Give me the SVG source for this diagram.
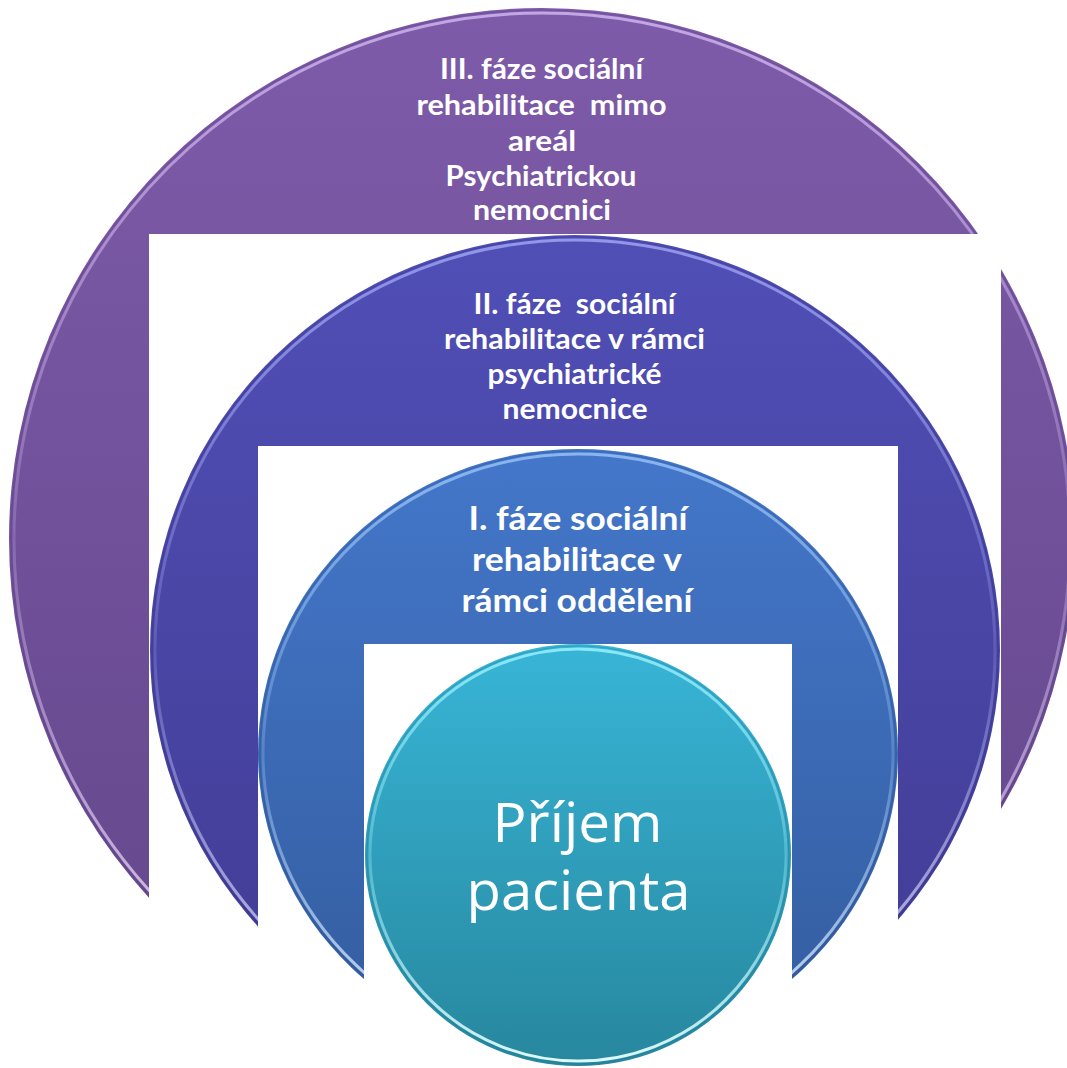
<svg xmlns="http://www.w3.org/2000/svg" width="1067" height="1068" viewBox="0 0 1067 1068">
  <style>
    .lbl { font-family: Lato, "Open Sans", "Liberation Sans", sans-serif; font-weight: 700; fill: #ffffff; text-anchor: middle; white-space: pre; }
    .s28 { font-size: 28px; }
    .s32 { font-size: 32px; }
    .big { font-family: "Open Sans", "Noto Sans", "Liberation Sans", sans-serif; font-weight: 400; font-size: 55px; fill: #ffffff; text-anchor: middle; }
    .rim { fill: none; stroke-width: 3; }
    .edge { fill: none; stroke-width: 1.2; stroke-opacity: 0.35; }
  </style>
  <defs>
    <linearGradient id="gPurple" x1="0" y1="0" x2="0" y2="1">
      <stop offset="0" stop-color="#7E5BA9"/>
      <stop offset="1" stop-color="#62468A"/>
    </linearGradient>
    <linearGradient id="gIndigo" x1="0" y1="0" x2="0" y2="1">
      <stop offset="0" stop-color="#504FB6"/>
      <stop offset="1" stop-color="#413B92"/>
    </linearGradient>
    <linearGradient id="gBlue" x1="0" y1="0" x2="0" y2="1">
      <stop offset="0" stop-color="#4477CA"/>
      <stop offset="1" stop-color="#335C9E"/>
    </linearGradient>
    <linearGradient id="gTeal" x1="0" y1="0" x2="0" y2="1">
      <stop offset="0" stop-color="#38B5D7"/>
      <stop offset="1" stop-color="#27879E"/>
    </linearGradient>
    <linearGradient id="rimPurple" x1="0" y1="0" x2="0" y2="1">
      <stop offset="0" stop-color="#E0C8FF" stop-opacity="0.7"/>
      <stop offset="0.5" stop-color="#E0C8FF" stop-opacity="0.2"/>
      <stop offset="1" stop-color="#FFF0FF" stop-opacity="0.95"/>
    </linearGradient>
    <linearGradient id="rimIndigo" x1="0" y1="0" x2="0" y2="1">
      <stop offset="0" stop-color="#B0B4FF" stop-opacity="0.7"/>
      <stop offset="0.5" stop-color="#B0B4FF" stop-opacity="0.2"/>
      <stop offset="1" stop-color="#F0F0FF" stop-opacity="0.95"/>
    </linearGradient>
    <linearGradient id="rimBlue" x1="0" y1="0" x2="0" y2="1">
      <stop offset="0" stop-color="#A8D0FF" stop-opacity="0.7"/>
      <stop offset="0.5" stop-color="#A8D0FF" stop-opacity="0.25"/>
      <stop offset="1" stop-color="#F0FAFF" stop-opacity="0.95"/>
    </linearGradient>
    <linearGradient id="rimTeal" x1="0" y1="0" x2="0" y2="1">
      <stop offset="0" stop-color="#A0F4FF" stop-opacity="0.8"/>
      <stop offset="0.5" stop-color="#A0F4FF" stop-opacity="0.3"/>
      <stop offset="1" stop-color="#E8FFFF" stop-opacity="0.95"/>
    </linearGradient>
    <clipPath id="cut3">
      <path clip-rule="evenodd" d="M0 0H1067V1068H0Z M149 234V1068H1001V234Z"/>
    </clipPath>
    <clipPath id="cut2">
      <path clip-rule="evenodd" d="M0 0H1067V1068H0Z M258 446V1068H898V446Z"/>
    </clipPath>
    <clipPath id="cut1">
      <path clip-rule="evenodd" d="M0 0H1067V1068H0Z M364 644V1068H792V644Z"/>
    </clipPath>
  </defs>

  <g id="connectors"/>

  <g id="phase3">
    <g clip-path="url(#cut3)">
      <ellipse cx="542" cy="539" rx="533" ry="531" fill="url(#gPurple)"/>
      <ellipse cx="542" cy="539" rx="531" ry="529" class="edge" stroke="#5A3E80"/>
      <ellipse cx="542" cy="539" rx="528" ry="526" class="rim" stroke="url(#rimPurple)"/>
    </g>
    <text class="lbl s28" x="541.5" y="79" textLength="203" lengthAdjust="spacingAndGlyphs">III. fáze sociální</text>
    <text class="lbl s28" x="541.5" y="115" textLength="250" lengthAdjust="spacingAndGlyphs">rehabilitace  mimo</text>
    <text class="lbl s28" x="542" y="150.5" textLength="68" lengthAdjust="spacingAndGlyphs">areál</text>
    <text class="lbl s28" x="541" y="186" textLength="191" lengthAdjust="spacingAndGlyphs">Psychiatrickou</text>
    <text class="lbl s28" x="542" y="220" textLength="138" lengthAdjust="spacingAndGlyphs">nemocnici</text>
  </g>

  <g id="phase2">
    <g clip-path="url(#cut2)">
      <ellipse cx="575" cy="650" rx="425" ry="415" fill="url(#gIndigo)"/>
      <ellipse cx="575" cy="650" rx="423" ry="413" class="edge" stroke="#35307A"/>
      <ellipse cx="575" cy="650" rx="420" ry="410" class="rim" stroke="url(#rimIndigo)"/>
    </g>
    <text class="lbl s28" x="574.5" y="314" textLength="202" lengthAdjust="spacingAndGlyphs">II. fáze  sociální</text>
    <text class="lbl s28" x="574.5" y="349" textLength="261" lengthAdjust="spacingAndGlyphs">rehabilitace v rámci</text>
    <text class="lbl s28" x="574.5" y="383.5" textLength="174" lengthAdjust="spacingAndGlyphs">psychiatrické</text>
    <text class="lbl s28" x="575" y="418.5" textLength="145" lengthAdjust="spacingAndGlyphs">nemocnice</text>
  </g>

  <g id="phase1">
    <g clip-path="url(#cut1)">
      <ellipse cx="578" cy="753" rx="320" ry="304" fill="url(#gBlue)"/>
      <ellipse cx="578" cy="753" rx="318" ry="302" class="edge" stroke="#2A4C88"/>
      <ellipse cx="578" cy="753" rx="315" ry="299" class="rim" stroke="url(#rimBlue)"/>
    </g>
    <text class="lbl s32" x="578" y="530" textLength="219" lengthAdjust="spacingAndGlyphs">I. fáze sociální</text>
    <text class="lbl s32" x="577" y="571" textLength="210" lengthAdjust="spacingAndGlyphs">rehabilitace v</text>
    <text class="lbl s32" x="577" y="612" textLength="231" lengthAdjust="spacingAndGlyphs">rámci oddělení</text>
  </g>

  <g id="admission">
    <ellipse cx="578" cy="855" rx="213" ry="211" fill="url(#gTeal)"/>
    <ellipse cx="578" cy="855" rx="211" ry="209" class="edge" stroke="#1F7A90"/>
    <ellipse cx="578" cy="855" rx="208" ry="206" class="rim" stroke="url(#rimTeal)"/>
    <text class="big" x="577.5" y="842" textLength="170" lengthAdjust="spacingAndGlyphs">Příjem</text>
    <text class="big" x="578.5" y="910" textLength="224" lengthAdjust="spacingAndGlyphs">pacienta</text>
  </g>
</svg>
